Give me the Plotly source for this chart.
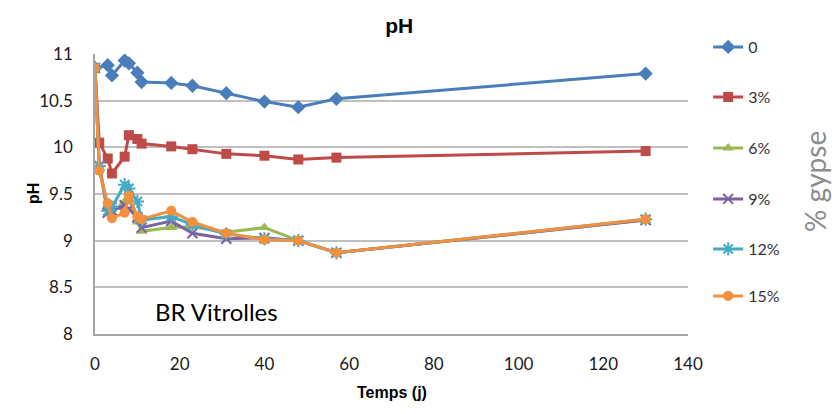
import plotly.graph_objects as go

# ---- data ----
days_0 = [0, 3, 4, 7, 8, 10, 11, 18, 23, 31, 40, 48, 57, 130]
ph_0 = [10.85, 10.88, 10.77, 10.93, 10.90, 10.80, 10.70, 10.69, 10.66, 10.58, 10.49, 10.43, 10.52, 10.79]

days = [0, 1, 3, 4, 7, 8, 10, 11, 18, 23, 31, 40, 48, 57, 130]
ph_3 = [10.85, 10.05, 9.88, 9.72, 9.90, 10.13, 10.09, 10.04, 10.01, 9.98, 9.93, 9.91, 9.87, 9.89, 9.96]
ph_6 = [10.85, 9.80, 9.36, 9.30, 9.42, 9.45, 9.20, 9.10, 9.14, 9.15, 9.09, 9.14, 9.00, 8.87, 9.22]
ph_9 = [10.85, 9.80, 9.30, 9.32, 9.38, 9.34, 9.25, 9.14, 9.21, 9.08, 9.02, 9.03, 9.00, 8.87, 9.22]
ph_12 = [10.85, 9.80, 9.32, 9.36, 9.60, 9.56, 9.42, 9.22, 9.26, 9.17, 9.07, 9.02, 9.00, 8.87, 9.23]
ph_15 = [10.85, 9.75, 9.40, 9.24, 9.30, 9.48, 9.26, 9.23, 9.32, 9.20, 9.08, 9.01, 9.00, 8.87, 9.23]

labels = ["0", "3%", "6%", "9%", "12%", "15%"]
colors = ["#4A7EBB", "#BE4B48", "#98B954", "#7D60A0", "#46AAC5", "#F38F3D"]
symbols = ["diamond", "square", "triangle-up", "x-thin-open", "asterisk-open", "circle"]
sizes = [11, 10, 10, 10, 11, 10]
xs = [days_0, days, days, days, days, days]
ys = [ph_0, ph_3, ph_6, ph_9, ph_12, ph_15]
legend_px = [47, 97, 148, 199, 249, 296]   # pixel centres of the legend entries

FONT = "Lato, Carlito, Calibri, sans-serif"
NARROW = "Liberation Sans Narrow, Liberation Sans, Arial"

fig = go.Figure()
legend_layouts = {}
for i in range(6):
    sym = symbols[i]
    mk = dict(symbol=sym, size=sizes[i], color=colors[i])
    if sym.endswith("open"):
        mk["line"] = dict(color=colors[i], width=2)
    lname = "legend" if i == 0 else f"legend{i + 1}"
    fig.add_trace(go.Scatter(
        x=xs[i], y=ys[i], name=labels[i], mode="lines+markers",
        line=dict(color=colors[i], width=3), marker=mk, legend=lname,
    ))
    legend_layouts[lname] = dict(
        x=1.034, xanchor="left", y=(334 - legend_px[i]) / 280, yanchor="middle",
        font=dict(family=FONT, size=16, color="#333333"), bgcolor="rgba(0,0,0,0)",
        itemwidth=30,
    )

fig.update_layout(
    width=832, height=414,
    margin=dict(l=95, r=144, t=54, b=80),
    paper_bgcolor="white", plot_bgcolor="white",
    font=dict(family=FONT, size=17, color="#1a1a1a"),
    title=dict(text="<b>pH</b>", x=0.513, xref="paper", y=1 - 26 / 414, yanchor="middle",
               xanchor="center", font=dict(family="Liberation Sans, Arial", size=21, color="black")),
    showlegend=True,
    xaxis=dict(range=[0, 140], dtick=20, tick0=0, showgrid=False, zeroline=False,
               showline=True, linecolor="#A6A6A6", linewidth=1.5, ticks="",
               ticklabelstandoff=14, tickfont=dict(family=FONT, size=17)),
    yaxis=dict(range=[8, 11], dtick=0.5, tick0=8, showgrid=True, gridcolor="#BFBFBF", gridwidth=1.5,
               zeroline=False, showline=True, linecolor="#A6A6A6", linewidth=1.5, ticks="",
               ticklabelstandoff=17, tickfont=dict(family=FONT, size=17)),
    annotations=[
        dict(text="<b>pH</b>", x=(33 - 95) / 593, xref="paper", xanchor="center",
             y=0.5, yref="paper", yanchor="middle",
             showarrow=False, textangle=-90, font=dict(family=NARROW, size=16, color="black")),
        dict(text="<b>Temps (j)</b>", x=(392 - 95) / 593, xref="paper", xanchor="center",
             y=(334 - 392) / 280, yref="paper", yanchor="middle",
             showarrow=False, font=dict(family=NARROW, size=16, color="black")),
        dict(text="BR Vitrolles", x=(216 - 95) / 593, xref="paper", xanchor="center",
             y=(334 - 311) / 280, yref="paper", yanchor="middle",
             showarrow=False, font=dict(family=FONT, size=24, color="black")),
        dict(text="% gypse", x=(815 - 95) / 593, xref="paper", xanchor="center",
             y=(334 - 182) / 280, yref="paper", yanchor="middle",
             showarrow=False, textangle=-90, font=dict(family=FONT, size=28, color="#8C8C8C")),
    ],
    **legend_layouts,
)

fig.write_html("out.html")
